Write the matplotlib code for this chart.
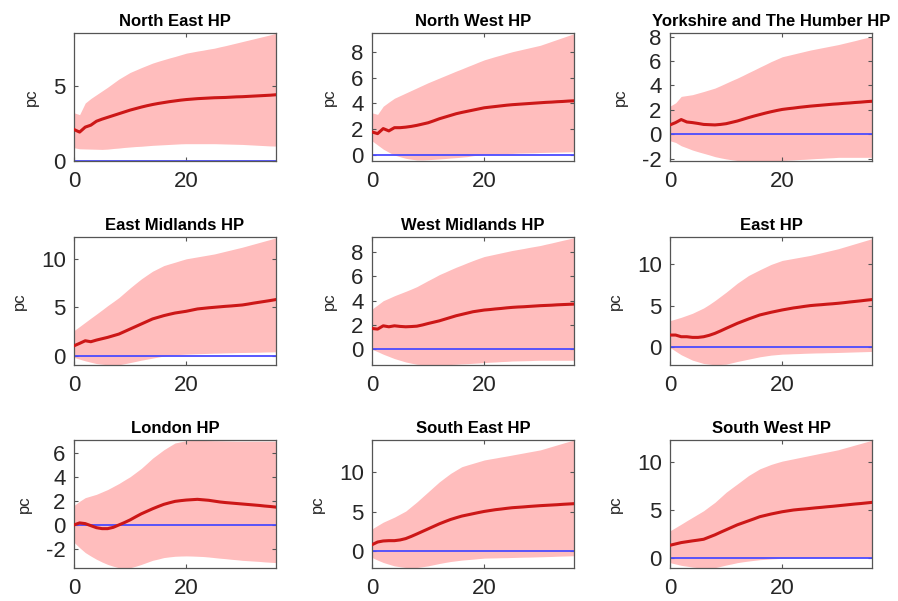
import numpy as np
import matplotlib
matplotlib.use("Agg")
import matplotlib.pyplot as plt
from matplotlib.ticker import MultipleLocator

plt.rcParams['font.family'] = ['Liberation Sans', 'DejaVu Sans']
plt.rcParams['axes.unicode_minus'] = False

horizons = list(range(37))

titles = ["North East HP", "North West HP", "Yorkshire and The Humber HP",
          "East Midlands HP", "West Midlands HP", "East HP",
          "London HP", "South East HP", "South West HP"]

ne_mean = [2.09, 1.92, 2.25, 2.38, 2.64, 2.78, 2.9, 3.02, 3.14, 3.26, 3.38, 3.48, 3.58, 3.67, 3.75, 3.82, 3.88, 3.94, 3.99, 4.04, 4.08, 4.11, 4.14, 4.16, 4.18, 4.2, 4.21, 4.22, 4.24, 4.26, 4.27, 4.29, 4.31, 4.33, 4.35, 4.37, 4.4]
ne_upper = [3.2, 3.08, 3.85, 4.15, 4.4, 4.65, 4.9, 5.17, 5.44, 5.66, 5.88, 6.04, 6.2, 6.35, 6.5, 6.62, 6.73, 6.84, 6.94, 7.05, 7.16, 7.23, 7.3, 7.36, 7.43, 7.49, 7.58, 7.66, 7.75, 7.84, 7.93, 8.02, 8.11, 8.2, 8.29, 8.38, 8.48]
ne_lower = [0.88, 0.81, 0.8, 0.79, 0.78, 0.77, 0.79, 0.83, 0.86, 0.9, 0.93, 0.96, 0.98, 1.01, 1.04, 1.06, 1.08, 1.1, 1.12, 1.14, 1.15, 1.15, 1.15, 1.15, 1.15, 1.15, 1.14, 1.13, 1.12, 1.11, 1.1, 1.08, 1.06, 1.04, 1.02, 1.0, 0.99]

nw_mean = [1.79, 1.66, 2.05, 1.87, 2.12, 2.12, 2.16, 2.22, 2.3, 2.4, 2.5, 2.65, 2.81, 2.94, 3.07, 3.2, 3.3, 3.39, 3.48, 3.57, 3.66, 3.71, 3.76, 3.81, 3.86, 3.9, 3.93, 3.96, 3.99, 4.02, 4.05, 4.08, 4.1, 4.13, 4.15, 4.18, 4.2]
nw_upper = [3.27, 3.15, 3.78, 4.1, 4.4, 4.6, 4.8, 5.0, 5.2, 5.4, 5.6, 5.78, 5.96, 6.14, 6.32, 6.5, 6.67, 6.85, 7.02, 7.2, 7.37, 7.5, 7.63, 7.75, 7.88, 8.0, 8.1, 8.2, 8.3, 8.4, 8.5, 8.65, 8.8, 8.95, 9.1, 9.25, 9.4]
nw_lower = [1.1, 0.78, 0.46, 0.22, 0.0, -0.13, -0.25, -0.32, -0.38, -0.38, -0.36, -0.33, -0.3, -0.27, -0.23, -0.2, -0.16, -0.12, -0.05, 0.0, 0.03, 0.06, 0.08, 0.1, 0.12, 0.13, 0.15, 0.16, 0.17, 0.18, 0.2, 0.21, 0.22, 0.23, 0.24, 0.25, 0.26]

yh_mean = [0.76, 0.95, 1.2, 1.0, 0.95, 0.88, 0.8, 0.78, 0.76, 0.8, 0.86, 0.97, 1.08, 1.22, 1.36, 1.49, 1.61, 1.73, 1.84, 1.94, 2.03, 2.09, 2.14, 2.2, 2.25, 2.3, 2.34, 2.38, 2.42, 2.46, 2.49, 2.53, 2.56, 2.6, 2.63, 2.67, 2.7]
yh_upper = [2.3, 2.57, 3.1, 3.17, 3.24, 3.37, 3.5, 3.64, 3.78, 3.98, 4.19, 4.4, 4.6, 4.82, 5.05, 5.27, 5.5, 5.72, 5.95, 6.15, 6.35, 6.46, 6.57, 6.68, 6.79, 6.9, 6.99, 7.08, 7.17, 7.26, 7.35, 7.46, 7.57, 7.68, 7.8, 7.91, 8.03]
yh_lower = [-0.54, -0.68, -0.95, -1.12, -1.3, -1.44, -1.57, -1.7, -1.84, -1.94, -2.03, -2.1, -2.16, -2.18, -2.19, -2.2, -2.2, -2.19, -2.18, -2.17, -2.16, -2.13, -2.11, -2.08, -2.06, -2.03, -2.0, -1.98, -1.95, -1.93, -1.9, -1.9, -1.9, -1.9, -1.9, -1.9, -1.9]

em_mean = [1.03, 1.28, 1.55, 1.45, 1.62, 1.76, 1.9, 2.07, 2.24, 2.5, 2.76, 3.02, 3.28, 3.54, 3.8, 3.97, 4.14, 4.28, 4.41, 4.5, 4.59, 4.71, 4.83, 4.89, 4.95, 5.0, 5.05, 5.1, 5.14, 5.19, 5.24, 5.33, 5.43, 5.52, 5.61, 5.7, 5.8]
em_upper = [2.6, 3.02, 3.45, 3.88, 4.3, 4.73, 5.17, 5.58, 6.0, 6.5, 7.0, 7.47, 7.93, 8.33, 8.72, 9.01, 9.3, 9.48, 9.65, 9.83, 10.0, 10.1, 10.2, 10.3, 10.4, 10.5, 10.64, 10.78, 10.92, 11.06, 11.2, 11.36, 11.52, 11.68, 11.84, 12.0, 12.17]
em_lower = [-0.17, -0.35, -0.52, -0.66, -0.8, -0.87, -0.93, -0.93, -0.93, -0.82, -0.7, -0.58, -0.45, -0.35, -0.24, -0.13, -0.03, 0.04, 0.1, 0.14, 0.17, 0.19, 0.21, 0.23, 0.25, 0.27, 0.28, 0.3, 0.31, 0.33, 0.34, 0.35, 0.36, 0.37, 0.39, 0.4, 0.41]

wm_mean = [1.71, 1.66, 1.93, 1.85, 1.93, 1.88, 1.85, 1.87, 1.9, 2.0, 2.12, 2.23, 2.34, 2.48, 2.62, 2.76, 2.87, 2.98, 3.09, 3.16, 3.23, 3.27, 3.32, 3.36, 3.41, 3.45, 3.48, 3.5, 3.53, 3.56, 3.59, 3.61, 3.63, 3.66, 3.68, 3.7, 3.72]
wm_upper = [3.31, 3.65, 4.0, 4.2, 4.41, 4.59, 4.77, 4.96, 5.16, 5.41, 5.66, 5.9, 6.15, 6.35, 6.56, 6.76, 6.94, 7.13, 7.31, 7.48, 7.64, 7.74, 7.84, 7.94, 8.04, 8.14, 8.22, 8.3, 8.39, 8.47, 8.55, 8.66, 8.76, 8.87, 8.98, 9.08, 9.19]
wm_lower = [0.0, -0.2, -0.41, -0.59, -0.77, -0.91, -1.05, -1.15, -1.24, -1.27, -1.3, -1.3, -1.3, -1.28, -1.26, -1.24, -1.21, -1.19, -1.16, -1.13, -1.1, -1.07, -1.05, -1.02, -1.0, -0.97, -0.96, -0.95, -0.94, -0.92, -0.91, -0.91, -0.91, -0.91, -0.91, -0.91, -0.91]

ea_mean = [1.48, 1.48, 1.28, 1.28, 1.2, 1.2, 1.28, 1.45, 1.68, 1.97, 2.28, 2.58, 2.88, 3.14, 3.4, 3.64, 3.88, 4.04, 4.2, 4.34, 4.48, 4.6, 4.72, 4.81, 4.91, 5.0, 5.06, 5.11, 5.17, 5.22, 5.28, 5.35, 5.43, 5.5, 5.57, 5.65, 5.72]
ea_upper = [3.2, 3.4, 3.6, 3.84, 4.08, 4.4, 4.72, 5.14, 5.6, 6.1, 6.6, 7.14, 7.68, 8.14, 8.6, 8.94, 9.28, 9.6, 9.92, 10.16, 10.4, 10.52, 10.64, 10.76, 10.88, 11.0, 11.16, 11.32, 11.48, 11.64, 11.8, 12.0, 12.2, 12.4, 12.6, 12.8, 13.0]
ea_lower = [0.0, -0.45, -0.88, -1.2, -1.52, -1.72, -1.92, -2.0, -2.08, -2.04, -2.0, -1.84, -1.68, -1.54, -1.4, -1.26, -1.12, -1.02, -0.92, -0.86, -0.8, -0.78, -0.75, -0.73, -0.7, -0.68, -0.66, -0.65, -0.63, -0.62, -0.6, -0.58, -0.56, -0.54, -0.52, -0.5, -0.48]

lo_mean = [0.0, 0.17, 0.11, -0.06, -0.23, -0.31, -0.31, -0.2, 0.0, 0.2, 0.42, 0.68, 0.93, 1.14, 1.35, 1.54, 1.72, 1.85, 1.97, 2.03, 2.08, 2.11, 2.14, 2.1, 2.06, 1.99, 1.92, 1.87, 1.83, 1.79, 1.75, 1.71, 1.67, 1.63, 1.58, 1.54, 1.49]
lo_upper = [1.63, 1.98, 2.28, 2.42, 2.56, 2.76, 2.96, 3.21, 3.46, 3.75, 4.03, 4.38, 4.73, 5.15, 5.58, 5.93, 6.28, 6.57, 6.85, 6.95, 7.04, 7.06, 7.07, 7.06, 7.05, 7.04, 7.03, 7.02, 7.01, 7.0, 7.0, 7.0, 7.0, 7.0, 7.0, 7.0, 7.0]
lo_lower = [-1.46, -1.9, -2.31, -2.6, -2.87, -3.1, -3.3, -3.45, -3.58, -3.58, -3.58, -3.45, -3.3, -3.13, -2.96, -2.85, -2.73, -2.67, -2.62, -2.6, -2.59, -2.6, -2.62, -2.64, -2.68, -2.73, -2.78, -2.82, -2.87, -2.91, -2.96, -2.99, -3.02, -3.05, -3.09, -3.12, -3.15]

se_mean = [0.85, 1.19, 1.32, 1.36, 1.36, 1.45, 1.62, 1.9, 2.21, 2.53, 2.85, 3.17, 3.49, 3.77, 4.04, 4.26, 4.47, 4.62, 4.77, 4.92, 5.06, 5.17, 5.28, 5.36, 5.45, 5.53, 5.58, 5.63, 5.69, 5.74, 5.79, 5.83, 5.87, 5.91, 5.96, 6.0, 6.04]
se_upper = [2.85, 3.28, 3.7, 4.02, 4.34, 4.72, 5.1, 5.68, 6.26, 6.9, 7.53, 8.17, 8.8, 9.34, 9.87, 10.3, 10.72, 10.94, 11.15, 11.36, 11.57, 11.7, 11.82, 11.95, 12.07, 12.2, 12.33, 12.46, 12.59, 12.72, 12.85, 13.06, 13.27, 13.48, 13.69, 13.9, 14.1]
se_lower = [-0.77, -1.1, -1.4, -1.62, -1.83, -1.94, -2.04, -2.04, -2.04, -1.94, -1.83, -1.68, -1.53, -1.4, -1.28, -1.19, -1.1, -1.04, -0.98, -0.91, -0.85, -0.83, -0.82, -0.8, -0.79, -0.77, -0.75, -0.73, -0.72, -0.7, -0.68, -0.66, -0.64, -0.61, -0.59, -0.57, -0.55]

sw_mean = [1.33, 1.47, 1.61, 1.7, 1.79, 1.87, 1.96, 2.19, 2.42, 2.69, 2.95, 3.21, 3.47, 3.68, 3.89, 4.1, 4.32, 4.46, 4.6, 4.72, 4.84, 4.93, 5.02, 5.08, 5.13, 5.19, 5.25, 5.3, 5.36, 5.41, 5.47, 5.53, 5.59, 5.65, 5.7, 5.76, 5.82]
sw_upper = [2.84, 3.19, 3.54, 3.9, 4.25, 4.6, 4.95, 5.39, 5.82, 6.35, 6.88, 7.32, 7.75, 8.19, 8.63, 8.98, 9.33, 9.56, 9.79, 9.97, 10.14, 10.26, 10.38, 10.5, 10.62, 10.74, 10.86, 10.98, 11.09, 11.21, 11.33, 11.5, 11.66, 11.83, 11.99, 12.16, 12.32]
sw_lower = [-0.49, -0.63, -0.77, -0.86, -0.95, -1.02, -1.09, -1.06, -1.02, -0.88, -0.74, -0.62, -0.49, -0.4, -0.32, -0.25, -0.18, -0.14, -0.1, -0.07, -0.04, -0.02, 0.0, 0.01, 0.03, 0.04, 0.05, 0.05, 0.06, 0.06, 0.07, 0.07, 0.08, 0.08, 0.09, 0.09, 0.1]

means = [ne_mean, nw_mean, yh_mean, em_mean, wm_mean, ea_mean, lo_mean, se_mean, sw_mean]
uppers = [ne_upper, nw_upper, yh_upper, em_upper, wm_upper, ea_upper, lo_upper, se_upper, sw_upper]
lowers = [ne_lower, nw_lower, yh_lower, em_lower, wm_lower, ea_lower, lo_lower, se_lower, sw_lower]

y_limits = [(0, 8.5), (-0.46, 9.45), (-2.2, 8.3),
            (-0.95, 12.25), (-1.3, 9.25), (-2.1, 13.2),
            (-3.6, 7.1), (-2.1, 14.1), (-1.05, 12.35)]
y_steps = [5, 2, 2, 5, 2, 5, 2, 5, 5]
x_ticks = [0, 20]

fig = plt.figure(figsize=(8.98, 6.01), dpi=100)
W, H = 898.0, 601.0
col_left = [74, 372, 670]
row_top = [33, 237, 440]
ax_w, ax_h = 202, 128

band_color = '#FFBDBD'
line_color = '#CC1717'
zero_color = '#4B4BFF'
frame_color = '#555555'
text_color = '#262626'

for i in range(9):
    r, c = divmod(i, 3)
    ax = fig.add_axes([col_left[c] / W, 1 - (row_top[r] + ax_h) / H, ax_w / W, ax_h / H])
    ax.fill_between(horizons, lowers[i], uppers[i], color=band_color, linewidth=0)
    ax.axhline(0, color=zero_color, linewidth=1.3, zorder=2)
    ax.plot(horizons, means[i], color=line_color, linewidth=2.2, zorder=3)
    ax.set_xlim(horizons[0], horizons[-1])
    ax.set_ylim(*y_limits[i])
    ax.set_xticks(x_ticks)
    ax.yaxis.set_major_locator(MultipleLocator(y_steps[i]))
    ax.tick_params(direction='in', length=3, width=0.8, colors=frame_color,
                   labelcolor=text_color, labelsize=16, pad=6,
                   top=True, right=True)
    ax.tick_params(axis='x', pad=7)
    for sp in ax.spines.values():
        sp.set_color(frame_color)
        sp.set_linewidth(0.9)
    ax.set_ylabel('pc', fontsize=12, color=text_color, labelpad=10)
    ax.set_title(titles[i], fontsize=12, fontweight='bold', color='black', pad=5)

fig.savefig('out.png', dpi=100)
